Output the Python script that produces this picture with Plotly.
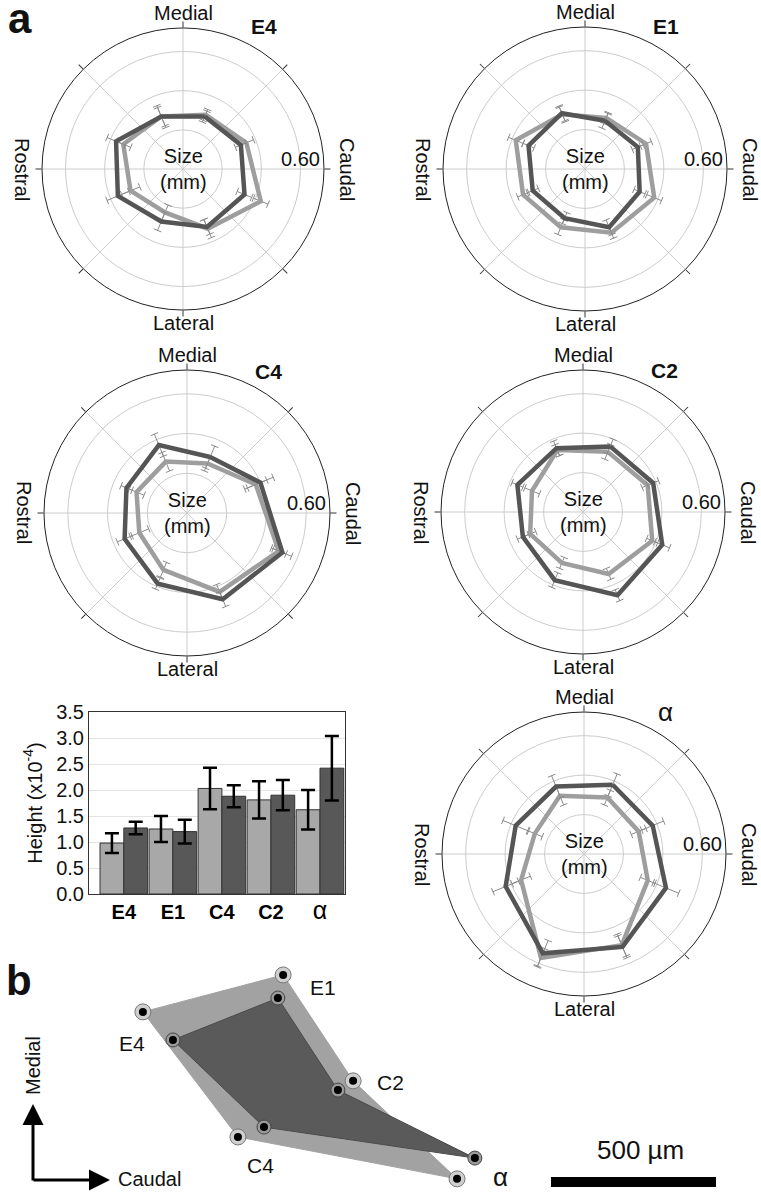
import math
import plotly.graph_objects as go

W, H = 761, 1199
FONT = "Liberation Sans"
light_color = "#9e9e9e"
dark_color = "#555555"
grid_color = "#cccccc"

# ---- panel a: polar size plots (mm), vertices at 22.5 deg offsets from the axes
theta = [22.5, 67.5, 112.5, 157.5, 202.5, 247.5, 292.5, 337.5]

e4_light = [0.30, 0.35, 0.43, 0.33, 0.24, 0.29, 0.33, 0.29]
e4_dark = [0.29, 0.32, 0.34, 0.32, 0.29, 0.36, 0.37, 0.29]
e4_light_err = [0.03, 0.04, 0.04, 0.05, 0.04, 0.05, 0.04, 0.06]
e4_dark_err = [0.03, 0.03, 0.04, 0.04, 0.05, 0.06, 0.05, 0.05]

e1_light = [0.28, 0.335, 0.38, 0.35, 0.32, 0.34, 0.38, 0.30]
e1_dark = [0.265, 0.29, 0.30, 0.32, 0.27, 0.287, 0.31, 0.306]
e1_light_err = [0.03, 0.03, 0.04, 0.03, 0.04, 0.03, 0.04, 0.04]
e1_dark_err = [0.04, 0.03, 0.03, 0.04, 0.03, 0.03, 0.03, 0.04]

c4_light = [0.27, 0.375, 0.50, 0.43, 0.31, 0.26, 0.275, 0.28]
c4_dark = [0.305, 0.40, 0.52, 0.47, 0.385, 0.34, 0.33, 0.37]
c4_light_err = [0.04, 0.06, 0.04, 0.04, 0.04, 0.05, 0.04, 0.05]
c4_dark_err = [0.06, 0.07, 0.05, 0.04, 0.03, 0.04, 0.03, 0.06]

c2_light = [0.33, 0.355, 0.38, 0.34, 0.28, 0.29, 0.28, 0.34]
c2_dark = [0.36, 0.385, 0.435, 0.457, 0.374, 0.33, 0.36, 0.35]
c2_light_err = [0.04, 0.03, 0.03, 0.03, 0.03, 0.03, 0.04, 0.03]
c2_dark_err = [0.04, 0.03, 0.04, 0.03, 0.04, 0.03, 0.03, 0.04]

a_light = [0.31, 0.30, 0.35, 0.50, 0.57, 0.345, 0.27, 0.32]
a_dark = [0.38, 0.377, 0.45, 0.51, 0.545, 0.43, 0.375, 0.37]
a_light_err = [0.04, 0.04, 0.04, 0.06, 0.05, 0.05, 0.04, 0.05]
a_dark_err = [0.06, 0.06, 0.07, 0.06, 0.07, 0.07, 0.07, 0.06]

polar_titles = ["<b>E4</b>", "<b>E1</b>", "<b>C4</b>", "<b>C2</b>", "α"]
# polar centre / outer radius in pixels
polar_boxes = [(183, 169, 141), (585, 169, 142), (187, 513, 143), (583, 512, 142), (584, 854, 142)]
polar_series = [
    (e4_light, e4_light_err, e4_dark, e4_dark_err),
    (e1_light, e1_light_err, e1_dark, e1_dark_err),
    (c4_light, c4_light_err, c4_dark, c4_dark_err),
    (c2_light, c2_light_err, c2_dark, c2_dark_err),
    (a_light, a_light_err, a_dark, a_dark_err),
]
r_max = 0.72

# ---- bar chart: height (x10^-4)
bar_cats = ["E4", "E1", "C4", "C2", "α"]
bar_ticktext = ["<b>E4</b>", "<b>E1</b>", "<b>C4</b>", "<b>C2</b>", "<span style='font-size:25px'>α</span>"]
bar_light = [0.98, 1.25, 2.03, 1.81, 1.62]
bar_light_err = [0.19, 0.25, 0.40, 0.36, 0.38]
bar_dark = [1.27, 1.20, 1.88, 1.90, 2.42]
bar_dark_err = [0.12, 0.23, 0.21, 0.29, 0.62]

# ---- panel b: barrel positions (um, caudal -> x, medial -> y)
barrel_names = ["E4", "E1", "C2", "α", "C4"]
outer_x = [433, 858, 1070, 1385, 721]
outer_y = [567, 679, 358, 61, 188]
inner_x = [524, 842, 1024, 1439, 800]
inner_y = [482, 609, 330, 124, 218]
scale_bar_um = 500


def px(x):
    return x / W


def py(y):
    return 1 - y / H


def err_segments(r, err, half_px, R):
    rr, tt = [], []
    for ri, ei, ti in zip(r, err, theta):
        rr += [ri - ei, ri + ei, None]
        tt += [ti, ti, None]
        for rc in (ri - ei, ri + ei):
            d = math.degrees(half_px / (rc / r_max * R))
            rr += [rc, rc, None]
            tt += [ti - d, ti + d, None]
    return rr, tt


def label(x, y, text, size=20, **kw):
    return dict(xref="paper", yref="paper", x=px(x), y=py(y), text=text, showarrow=False,
                xanchor="center", yanchor="middle", font=dict(size=size, color="#111"), **kw)


fig = go.Figure()
annotations = []

for k, ((cx, cy, R), (lr, le, dr, de), title) in enumerate(zip(polar_boxes, polar_series, polar_titles)):
    name = "polar" if k == 0 else "polar%d" % (k + 1)
    for r, e, col in ((lr, le, light_color), (dr, de, dark_color)):
        rr, tt = err_segments(r, e, 4, R)
        fig.add_trace(go.Scatterpolar(r=rr, theta=tt, mode="lines", subplot=name,
                                      line=dict(color="#8a8a8a", width=1), hoverinfo="skip"))
        fig.add_trace(go.Scatterpolar(r=r + [r[0]], theta=theta + [theta[0]], mode="lines",
                                      subplot=name, line=dict(color=col, width=4.5)))
    fig.update_layout(**{name: dict(
        domain=dict(x=[px(cx - R), px(cx + R)], y=[py(cy + R), py(cy - R)]),
        bgcolor="white",
        radialaxis=dict(range=[0, r_max], tickvals=[0.2, 0.4, 0.6], showticklabels=False,
                        ticks="", showline=False, gridcolor=grid_color, gridwidth=1),
        angularaxis=dict(rotation=90, direction="clockwise", tickvals=list(range(0, 360, 45)),
                         showticklabels=False, ticks="outside", ticklen=6, tickcolor="#333",
                         linecolor="#222", linewidth=1, gridcolor=grid_color),
    )})
    annotations += [
        label(cx, cy - R - 15, "Medial"),
        label(cx, cy + R + 13, "Lateral"),
        label(cx - R - 20, cy, "Rostral", textangle=90),
        label(cx + R + 23, cy, "Caudal", textangle=90),
        label(cx, cy, "Size<br>(mm)"),
        label(cx + 0.6 / r_max * R, cy - 10, "0.60"),
        label(cx + 81, cy - 142, title, size=26 if title == "α" else 21),
    ]

# bar chart
fig.add_trace(go.Bar(x=bar_cats, y=bar_light, xaxis="x", yaxis="y",
                     marker=dict(color="#a8a8a8", line=dict(color="#333", width=1)),
                     error_y=dict(type="data", array=bar_light_err, color="black", thickness=2.5, width=7)))
fig.add_trace(go.Bar(x=bar_cats, y=bar_dark, xaxis="x", yaxis="y",
                     marker=dict(color="#585858", line=dict(color="#333", width=1)),
                     error_y=dict(type="data", array=bar_dark_err, color="black", thickness=2.5, width=7)))

# panel b
um = scale_bar_um / 165.0
fig.add_trace(go.Scatter(x=outer_x + [outer_x[0]], y=outer_y + [outer_y[0]], xaxis="x2", yaxis="y2",
                         mode="lines", fill="toself", fillcolor="#a2a2a2", line=dict(color="#a2a2a2", width=1)))
fig.add_trace(go.Scatter(x=inner_x + [inner_x[0]], y=inner_y + [inner_y[0]], xaxis="x2", yaxis="y2",
                         mode="lines", fill="toself", fillcolor="#5a5a5a", line=dict(color="#4a4a4a", width=1)))
fig.add_trace(go.Scatter(x=outer_x, y=outer_y, xaxis="x2", yaxis="y2", mode="markers",
                         marker=dict(size=16, color="#cfcfcf", line=dict(color="#777", width=1))))
fig.add_trace(go.Scatter(x=inner_x, y=inner_y, xaxis="x2", yaxis="y2", mode="markers",
                         marker=dict(size=14, color="#9a9a9a", line=dict(color="#444", width=1))))
fig.add_trace(go.Scatter(x=outer_x + inner_x, y=outer_y + inner_y, xaxis="x2", yaxis="y2", mode="markers",
                         marker=dict(size=8, color="black")))
bar_x0 = 551 * um
bar_y0 = (H - 1182) * um
fig.add_trace(go.Scatter(x=[bar_x0, bar_x0 + scale_bar_um], y=[bar_y0, bar_y0], xaxis="x2", yaxis="y2",
                         mode="lines", line=dict(color="black", width=10)))

label_px = {"E4": (132, 1043), "E1": (323, 987), "C2": (390, 1082), "α": (500, 1177), "C4": (260, 1165)}
for nm in barrel_names:
    x0, y0 = label_px[nm]
    annotations.append(label(x0, y0, nm, size=26 if nm == "α" else 21))
annotations += [
    label(640, 1150, "500 µm", size=26),
    label(33, 1066, "Medial", textangle=-90),
    label(149, 1179, "Caudal"),
    dict(xref="paper", yref="paper", x=px(33), y=py(1104), ax=0, ay=78, text="", showarrow=True,
         arrowhead=2, arrowsize=1.4, arrowwidth=3, arrowcolor="black"),
    dict(xref="paper", yref="paper", x=px(110), y=py(1180), ax=-78, ay=0, text="", showarrow=True,
         arrowhead=2, arrowsize=1.4, arrowwidth=3, arrowcolor="black"),
    label(20, 19, "<b>a</b>", size=42),
    label(19, 980, "<b>b</b>", size=42),
]

fig.update_layout(
    width=W, height=H, margin=dict(l=0, r=0, t=0, b=0, autoexpand=False),
    paper_bgcolor="white", plot_bgcolor="rgba(0,0,0,0)",
    font=dict(family=FONT, size=20, color="#111"),
    showlegend=False, barmode="group", bargap=0.03, bargroupgap=0,
    xaxis=dict(domain=[px(89), px(345)], anchor="y", range=[-0.71, 4.51], automargin=False,
               tickvals=bar_cats, ticktext=bar_ticktext, ticks="", showgrid=False,
               showline=True, linecolor="#333", linewidth=1, mirror=True,
               tickfont=dict(size=20, color="black")),
    yaxis=dict(domain=[py(894), py(712)], anchor="x", range=[0, 3.5], dtick=0.5, tickformat=".1f",
               automargin=False,
               showgrid=True, gridcolor="#e4e4e4", ticks="", showline=True, linecolor="#333",
               linewidth=1, mirror=True, zeroline=False, tickfont=dict(size=20),
               title=dict(text="Height (x10<sup>-4</sup>)", font=dict(size=20), standoff=8)),
    xaxis2=dict(domain=[0, 1], anchor="y2", range=[0, W * um], visible=False, automargin=False),
    yaxis2=dict(domain=[0, py(950)], anchor="x2", range=[0, (H - 950) * um], visible=False,
                automargin=False),
    annotations=annotations,
)

fig.write_html("out.html", config={"displayModeBar": False},
               post_script="document.body.style.margin='0';")
